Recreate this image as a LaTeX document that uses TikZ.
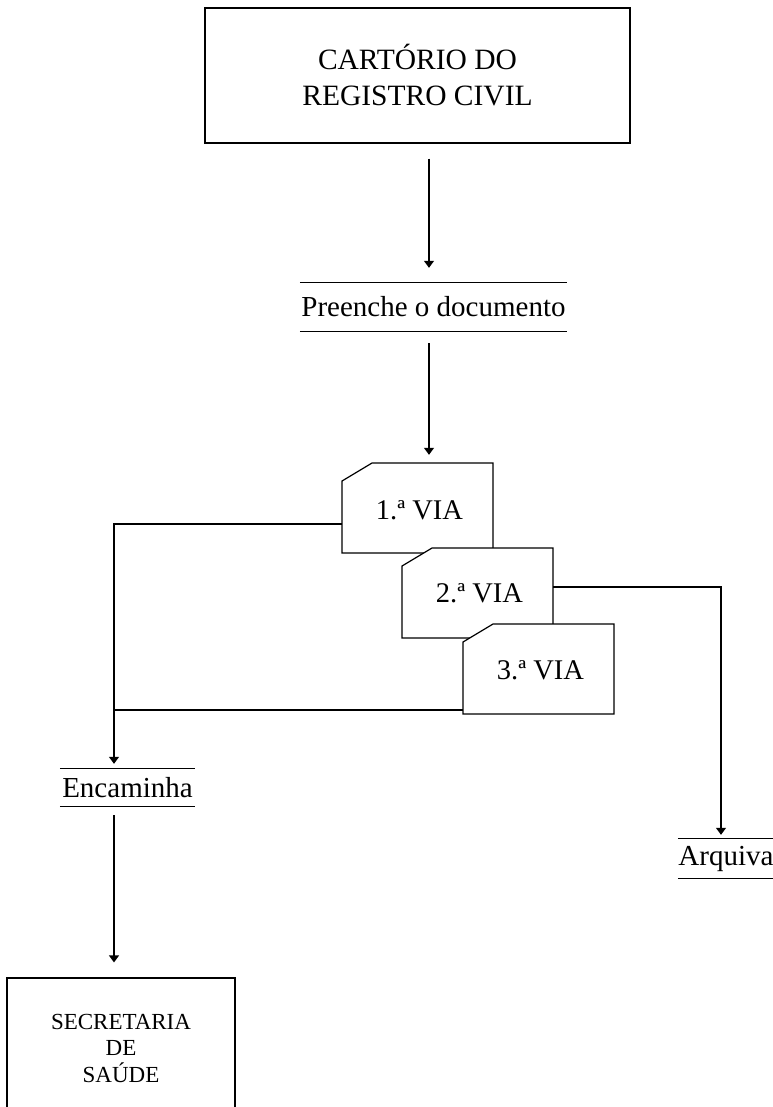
\documentclass[tikz,border=0pt]{standalone}
\usepackage{fontspec}
\setmainfont{Liberation Serif}
\usetikzlibrary{arrows.meta,calc}
\begin{document}
\begin{tikzpicture}[x=1pt,y=-1pt,
  ln/.style={line width=1.2pt},
  arr/.style={ln,-{Triangle[length=7pt,width=10pt]}},
  bigbox/.style={draw,ln,align=center,font=\fontsize{29.5}{36}\selectfont,inner sep=0pt},
  proc/.style={font=\fontsize{29}{34}\selectfont,inner sep=0pt},
  card/.style={draw,ln,fill=white},
  vtext/.style={font=\fontsize{28.5}{34}\selectfont,inner sep=0pt,minimum width=151pt,minimum height=90pt},
  smallbox/.style={draw,ln,align=center,font=\fontsize{23}{26.5}\selectfont,inner sep=0pt}]
\useasboundingbox (0,0) rectangle (772,1107);
\coordinate (ax) at (429,0);
\coordinate (lx) at (114,0);
\coordinate (rx) at (721,0);
% top box
\node[bigbox,minimum width=425pt,minimum height=135pt] (top) at (417.5,75.5) {CARTÓRIO DO\\REGISTRO CIVIL};
% process
\node[proc,minimum width=267pt,minimum height=48pt] (pre) at (433.5,307) {Preenche o documento};
\draw[ln] (pre.north west) -- (pre.north east) (pre.south west) -- (pre.south east);
% cards
\draw[card] (342,481) -- (342,553) -- (493,553) -- (493,463) -- (372,463) -- cycle;
\node[vtext] (v1) at (419.5,510) {1.ª VIA};
\draw[card] (402,566) -- (402,638) -- (553,638) -- (553,548) -- (432,548) -- cycle;
\node[vtext] (v2) at (479.5,593) {2.ª VIA};
\draw[card] (463,642) -- (463,714) -- (614,714) -- (614,624) -- (493,624) -- cycle;
\node[vtext] (v3) at (540.5,670) {3.ª VIA};
% encaminha / arquiva
\node[proc,minimum width=135pt,minimum height=37pt] (enc) at (127.5,787.5) {Encaminha};
\draw[ln] (enc.north west) -- (enc.north east) (enc.south west) -- (enc.south east);
\node[proc,minimum width=96pt,minimum height=39pt] (arq) at (726,858.5) {Arquiva};
\draw[ln] (arq.north west) -- (arq.north east) (arq.south west) -- (arq.south east);
% secretaria
\node[smallbox,minimum width=228pt,minimum height=140pt] (sec) at (121,1048) {SECRETARIA\\DE\\SAÚDE};
% connectors
\draw[arr,shorten <=15pt,shorten >=15pt] (top.south -| ax) -- (pre.north -| ax);
\draw[arr,shorten <=12pt,shorten >=10pt] (pre.south -| ax) -- (v1.north -| ax);
\draw[arr,shorten >=5pt] ($(v1.west)+(-2,14)$) -| (enc.north -| lx);
\draw[ln] ($(v3.west)+(-2,40)$) coordinate (j3) -- (j3 -| lx);
\draw[arr,shorten >=4pt] ($(v2.east)+(-2,-6)$) -| (arq.north -| rx);
\draw[arr,shorten <=9pt,shorten >=15pt] (enc.south -| lx) -- (sec.north -| lx);
\end{tikzpicture}
\end{document}
